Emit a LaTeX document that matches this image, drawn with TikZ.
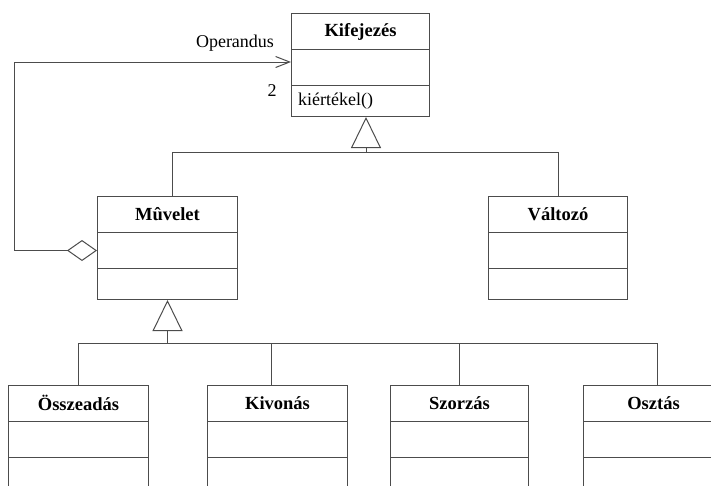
\documentclass[tikz,border=0pt]{standalone}
\usepackage{fontspec}
\setmainfont{Liberation Serif}
\usetikzlibrary{arrows.meta,calc}
\definecolor{lc}{gray}{0.3}
\tikzset{
  cls/.style={draw=lc, line width=1pt, inner sep=0pt, minimum height=103pt},
  ttl/.style={font=\fontsize{18.5}{18.5}\selectfont\bfseries, text=black, inner sep=0pt},
  lbl/.style={font=\fontsize{18}{18}\selectfont, text=black, inner sep=0pt},
  conn/.style={draw=lc, line width=1pt},
  gen/.style={conn, -{Triangle[open, length=31pt, width=30pt]}},
  agg/.style={conn, {Diamond[open, length=30pt, width=21pt]}-{Straight Barb[length=14pt, width=11pt]}}
}
\newcommand\mkclass[5]{%
  \node[cls, minimum width=#4pt, anchor=north west] (#1) at (#2,#3) {};
  \node[ttl] (#1t) at ($(#1.north)+(0,18.5)$) {#5};
  \draw[conn] ($(#1.north west)+(0,36.5)$) -- ($(#1.north east)+(0,36.5)$);
  \draw[conn] ($(#1.north west)+(0,72.5)$) -- ($(#1.north east)+(0,72.5)$);
}
\begin{document}
\begin{tikzpicture}[x=1pt,y=-1pt]
\useasboundingbox (0,0) rectangle (711,485);
\clip (0,0) rectangle (711,485);
\mkclass{kif}{291}{13}{138}{Kifejezés}
\mkclass{mu}{97}{196}{140}{Mûvelet}
\mkclass{val}{488}{196}{139}{Változó}
\mkclass{osz}{8}{384.5}{140}{Összeadás}
\mkclass{kiv}{207}{384.5}{140}{Kivonás}
\mkclass{szo}{390}{384.5}{138}{Szorzás}
\mkclass{oszt}{583}{384.5}{140}{Osztás}
\node[lbl, anchor=west] (op) at ($(kif.north west)+(7,88)$) {kiértékel()};
\node[lbl] (rol) at (235,43) {Operandus};
\node[lbl] (mult) at (272,91) {2};
% aggregation
\coordinate (c2) at (14,62);
\draw[agg] ($(mu.north west)+(0,54.5)$) -| (c2) -- ($(kif.north west)+(0,49)$);
% upper generalization
\coordinate (k1) at (366,152);
\coordinate (ja) at (172,152);
\coordinate (jb) at (558,152);
\draw[gen] (k1) -- (k1 |- kif.south);
\draw[conn] (ja |- mu.north) -- (ja) -- (jb) -- (jb |- val.north);
% lower generalization
\coordinate (m1) at (167.5,343);
\coordinate (j1) at (78,343);
\coordinate (j2) at (271,343);
\coordinate (j3) at (459,343);
\coordinate (j4) at (657,343);
\draw[gen] (m1) -- (m1 |- mu.south);
\draw[conn] (j1 |- osz.north) -- (j1) -- (j4) -- (j4 |- oszt.north);
\draw[conn] (j2) -- (j2 |- kiv.north);
\draw[conn] (j3) -- (j3 |- szo.north);
\end{tikzpicture}
\end{document}
